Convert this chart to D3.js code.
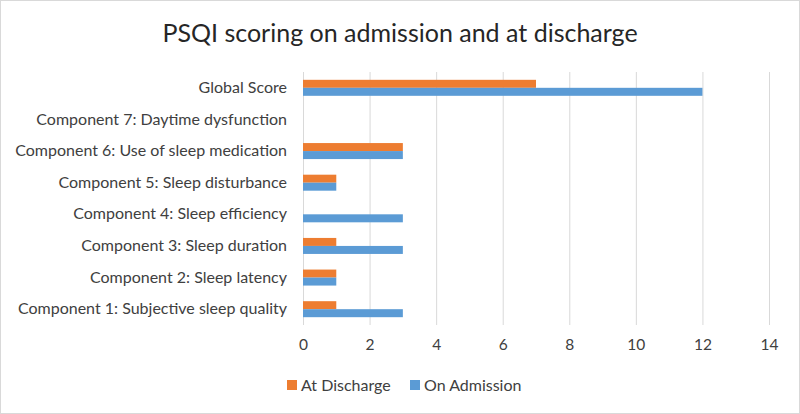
<!DOCTYPE html>
<html><head><meta charset="utf-8">
<script src="https://cdn.jsdelivr.net/npm/d3@7"></script>
<style>body{margin:0;background:#fff}svg{display:block}</style>
</head><body><svg id="c" width="800" height="414"></svg>
<script>
const categories = ["Component 1: Subjective sleep quality","Component 2: Sleep latency","Component 3: Sleep duration","Component 4: Sleep efficiency","Component 5: Sleep disturbance","Component 6: Use of sleep medication","Component 7: Daytime dysfunction","Global Score"];
const atDischarge = [1,1,1,0,1,3,0,7];
const onAdmission = [3,1,3,3,1,3,0,12];
const seriesNames = ["At Discharge","On Admission"];
const seriesColors = ["#ED7D31","#5B9BD5"];
const xTicks = [0,2,4,6,8,10,12,14];
const title = "PSQI scoring on admission and at discharge";

const font = "Lato, 'Open Sans', sans-serif";
const svg = d3.select("#c");
svg.append("rect").attr("x",0.5).attr("y",0.5).attr("width",799).attr("height",413).attr("fill","#fff").attr("stroke","#D9D9D9");

svg.append("text").attr("x",400).attr("y",42).attr("text-anchor","middle")
  .attr("font-family",font).attr("font-size",25).attr("fill","#262626").text(title);

const x = d3.scaleLinear().domain([0,14]).range([303,769]);
const y = d3.scaleBand().domain(categories.slice().reverse()).range([72,325]);
const sub = d3.scaleBand().domain(seriesNames).range([y.bandwidth()/2-8, y.bandwidth()/2+8]);

// gridlines
svg.append("g").selectAll("line").data(xTicks).join("line")
  .attr("x1",d=>x(d)+0.5).attr("x2",d=>x(d)+0.5).attr("y1",72).attr("y2",325)
  .attr("stroke","#D9D9D9").attr("stroke-width",1);

const data = categories.map((c,i)=>({c, vals:[atDischarge[i], onAdmission[i]]}));
const g = svg.append("g").selectAll("g").data(data).join("g").attr("transform",d=>`translate(0,${y(d.c)})`);
g.selectAll("rect").data(d=>d.vals.map((v,j)=>({v,s:seriesNames[j],col:seriesColors[j]}))).join("rect")
  .attr("x",x(0)).attr("y",d=>sub(d.s)).attr("height",sub.bandwidth())
  .attr("width",d=>x(d.v)-x(0)).attr("fill",d=>d.col);

// y labels
const ya = svg.append("g").attr("transform",`translate(${x(0)},0)`).call(d3.axisLeft(y).tickSize(0).tickPadding(16));
ya.select(".domain").remove();
ya.selectAll("text").attr("font-family",font).attr("font-size",16).attr("fill","#404040");

// x axis
const xa = svg.append("g").attr("transform",`translate(0,325)`).call(d3.axisBottom(x).tickValues(xTicks).tickSize(0).tickPadding(14));
xa.select(".domain").remove();
xa.selectAll("text").attr("font-family",font).attr("font-size",15.5).attr("fill","#404040");

// legend
const legX = [287, 410];
const lg = svg.append("g").selectAll("g").data(seriesNames).join("g").attr("transform",(d,i)=>`translate(${legX[i]},380)`);
lg.append("rect").attr("width",10).attr("height",10).attr("fill",(d,i)=>seriesColors[i]);
lg.append("text").attr("x",14).attr("y",10.5).attr("font-family",font).attr("font-size",16).attr("fill","#404040").text(d=>d);
</script></body></html>
